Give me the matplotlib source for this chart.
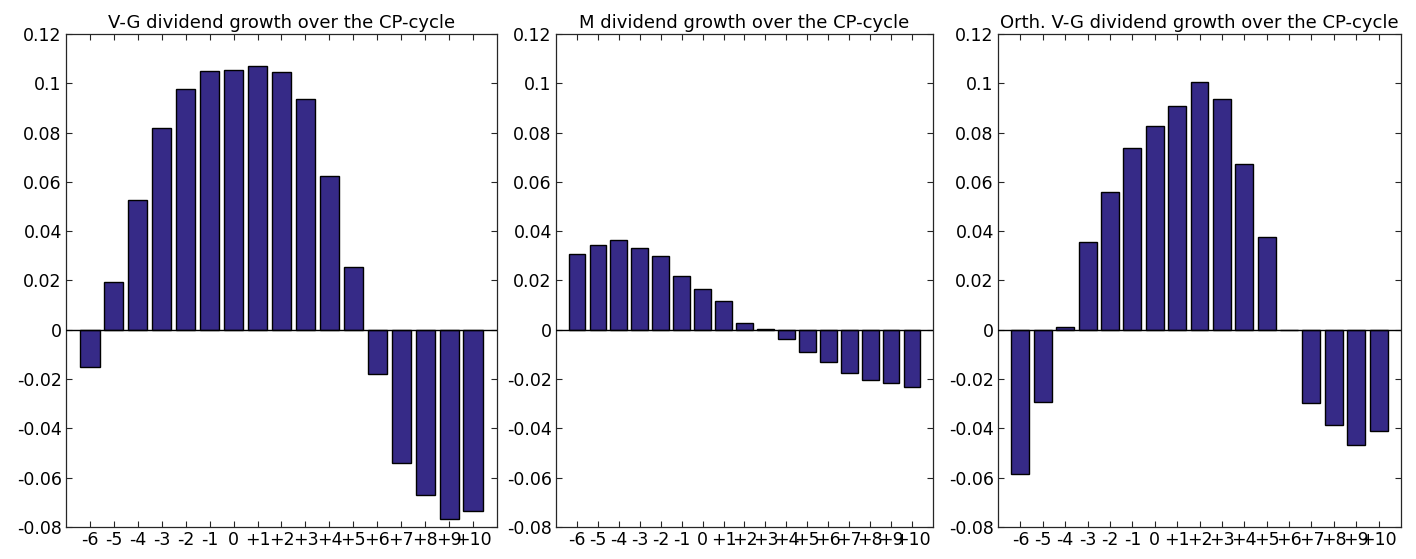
import matplotlib
matplotlib.use("Agg")
import matplotlib.pyplot as plt
import numpy as np

plt.rcParams['font.family'] = ['DejaVu Sans']

# Event-time labels around the CP-cycle
periods = ['-6', '-5', '-4', '-3', '-2', '-1', '0', '+1', '+2', '+3',
           '+4', '+5', '+6', '+7', '+8', '+9', '+10']

vg_growth = [-0.0150, 0.0192, 0.0527, 0.0820, 0.0977, 0.1049, 0.1054, 0.1072,
             0.1045, 0.0936, 0.0623, 0.0255, -0.0180, -0.0541, -0.0672,
             -0.0766, -0.0736]

m_growth = [0.0309, 0.0343, 0.0365, 0.0331, 0.0300, 0.0220, 0.0164, 0.0118,
            0.0027, 0.0002, -0.0036, -0.0089, -0.0130, -0.0176, -0.0204,
            -0.0214, -0.0232]

orth_vg_growth = [-0.0586, -0.0292, 0.0011, 0.0355, 0.0558, 0.0738, 0.0826,
                  0.0907, 0.1005, 0.0938, 0.0673, 0.0378, -0.0002, -0.0296,
                  -0.0386, -0.0469, -0.0409]

titles = ['V-G dividend growth over the CP-cycle',
          'M dividend growth over the CP-cycle',
          'Orth. V-G dividend growth over the CP-cycle']

yticks = [0.12, 0.1, 0.08, 0.06, 0.04, 0.02, 0, -0.02, -0.04, -0.06, -0.08]
ytick_labels = ['0.12', '0.1', '0.08', '0.06', '0.04', '0.02', '0',
                '-0.02', '-0.04', '-0.06', '-0.08']

bar_color = '#362a87'
spine_color = '#262626'

fig = plt.figure(figsize=(14.16, 5.59), dpi=100)
W, H = 1416, 559
boxes = [(66, 497), (556, 933), (998, 1401)]
top_px, bot_px = 34, 527

series = [vg_growth, m_growth, orth_vg_growth]
x = np.arange(1, len(periods) + 1)

for (l, r), vals, title in zip(boxes, series, titles):
    ax = fig.add_axes([l / W, 1 - bot_px / H, (r - l) / W, (bot_px - top_px) / H])
    ax.bar(x, vals, width=0.8, color=bar_color, edgecolor='black',
           linewidth=1.0, zorder=2)
    ax.axhline(0, color='black', linewidth=1.0, zorder=3)
    ax.set_xlim(0, 18)
    ax.set_ylim(-0.08, 0.12)
    ax.set_xticks(x)
    ax.set_xticklabels(periods)
    ax.set_yticks(yticks)
    ax.set_yticklabels(ytick_labels)
    ax.tick_params(direction='in', length=4, width=0.8, top=True, right=True,
                   labelsize=12.5, colors=spine_color, labelcolor='black', pad=3)
    for sp in ax.spines.values():
        sp.set_color(spine_color)
        sp.set_linewidth(0.9)
    ax.set_title(title, fontsize=13, pad=4)

fig.savefig('out.png', dpi=100)
